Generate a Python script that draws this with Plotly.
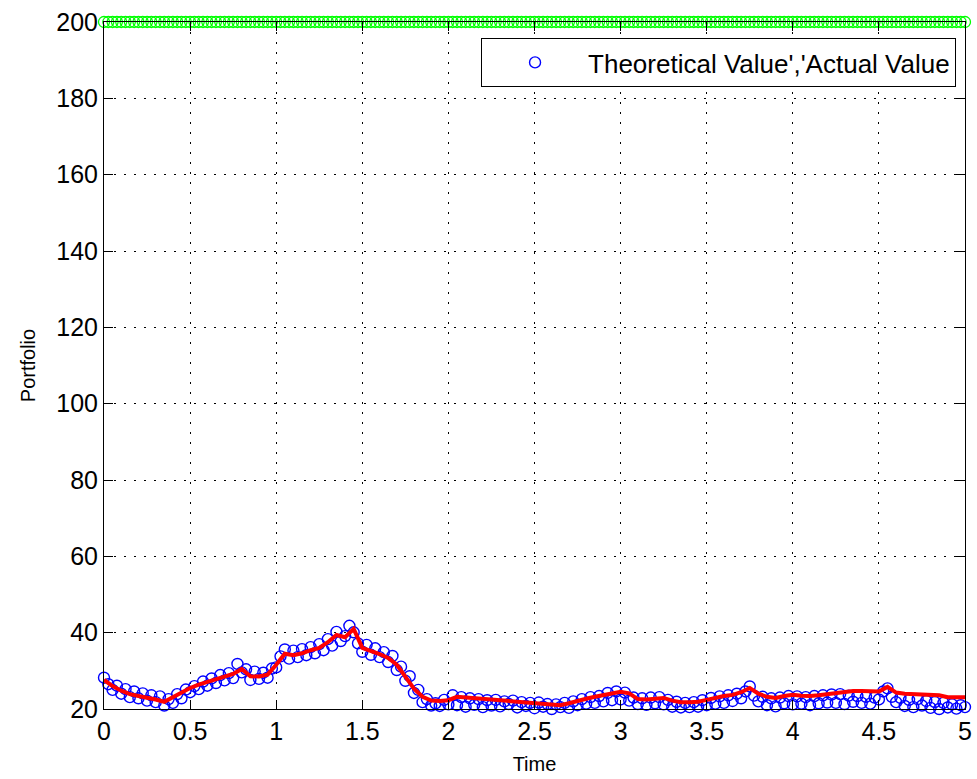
import numpy as np
import plotly.graph_objects as go

# Time grid for the sampled series
time_fine = np.linspace(0, 5, 201)     # theoretical values and the upper bound
time_coarse = np.linspace(0, 5, 101)   # actual value path

# Upper bound drawn as green circles along the top
upper_bound = [200.0] * len(time_fine)

# Theoretical portfolio value (blue circles)
theoretical = [
    28.2, 26.5, 25.0, 26.1, 24.0, 25.2, 23.1, 24.6,
    22.8, 24.1, 22.2, 23.6, 21.8, 23.3, 20.9, 22.6,
    21.6, 23.9, 22.8, 25.1, 24.4, 26.0, 25.2, 27.2,
    26.1, 28.0, 26.8, 28.9, 27.5, 29.4, 28.1, 31.8,
    29.6, 30.4, 27.6, 29.8, 27.9, 29.5, 28.2, 30.6,
    30.9, 33.8, 35.6, 33.2, 35.3, 33.6, 35.7, 34.1,
    36.2, 34.6, 37.0, 35.4, 38.3, 36.6, 40.2, 37.8,
    39.1, 41.8, 40.1, 37.2, 35.0, 36.8, 34.2, 35.9,
    33.6, 34.9, 32.3, 33.9, 30.2, 31.1, 27.4, 28.6,
    24.2, 25.0, 21.8, 22.6, 20.9, 21.5, 20.8, 22.4,
    21.2, 23.6, 21.0, 23.1, 20.6, 22.8, 21.1, 22.6,
    20.5, 22.3, 20.9, 22.4, 20.7, 22.0, 21.3, 22.2,
    20.4, 21.8, 20.8, 21.6, 20.2, 21.7, 20.6, 21.3,
    20.0, 21.2, 20.5, 21.6, 20.3, 22.0, 21.0, 22.6,
    21.4, 23.1, 21.6, 23.4, 22.0, 24.2, 22.3, 24.6,
    22.5, 24.3, 22.2, 23.0, 21.3, 22.8, 21.1, 23.0,
    21.5, 23.1, 21.2, 22.4, 20.6, 21.9, 20.4, 21.6,
    20.5, 21.8, 20.6, 22.3, 21.0, 22.9, 21.4, 23.3,
    21.6, 23.6, 22.1, 24.0, 22.8, 24.6, 25.9, 23.5,
    22.0, 23.2, 21.0, 22.8, 20.7, 23.0, 21.5, 23.4,
    21.2, 23.3, 21.4, 23.1, 21.0, 23.4, 21.5, 23.6,
    21.7, 23.8, 21.6, 23.9, 21.3, 23.5, 21.9, 23.4,
    21.6, 23.2, 21.4, 23.0, 22.5, 24.6, 25.4, 23.2,
    21.8, 22.9, 20.8, 22.4, 20.5, 22.6, 20.9, 22.1,
    20.3, 21.8, 20.0, 21.6, 20.4, 21.2, 20.1, 21.0,
    20.5,
]

# Actual portfolio value (red line)
actual = [
    27.6, 26.0, 24.8, 23.9, 23.4, 23.0, 22.5, 21.9, 23.2, 24.3,
    25.5, 26.4, 27.1, 27.6, 28.3, 29.2, 30.5, 28.6, 28.5, 29.0,
    31.6, 34.5, 34.1, 34.6, 35.4, 36.0, 37.5, 39.4, 38.8, 41.0,
    36.0, 35.3, 34.4, 33.4, 31.6, 28.5, 25.3, 23.2, 22.2, 22.1,
    22.3, 23.2, 23.0, 22.9, 22.6, 22.4, 22.4, 22.1, 21.9, 21.7,
    21.5, 21.3, 21.1, 21.0, 21.5, 22.2, 22.7, 23.2, 23.7, 24.0,
    24.5, 24.1, 22.6, 22.5, 22.8, 22.9, 22.2, 21.8, 21.8, 21.9,
    22.4, 23.0, 23.4, 23.7, 24.4, 25.5, 24.0, 23.2, 22.9, 23.4,
    23.7, 23.5, 23.4, 23.6, 23.9, 24.0, 24.4, 24.7, 24.7, 24.7,
    24.6, 25.8, 24.3, 24.0, 23.9, 23.9, 23.9, 23.6, 23.1, 23.1,
    23.1,
]

x_ticks = [0, 0.5, 1, 1.5, 2, 2.5, 3, 3.5, 4, 4.5, 5]
x_tick_labels = ["0", "0.5", "1", "1.5", "2", "2.5", "3", "3.5", "4", "4.5", "5"]
y_ticks = [20, 40, 60, 80, 100, 120, 140, 160, 180, 200]

FONT = "Liberation Sans, Arial, sans-serif"

fig = go.Figure()

fig.add_trace(go.Scatter(
    x=time_fine, y=upper_bound, mode="markers",
    marker=dict(symbol="circle-open", size=11, color="#00FF00", line=dict(width=1.3)),
    cliponaxis=False, showlegend=False, hoverinfo="skip",
))

fig.add_trace(go.Scatter(
    x=time_fine, y=theoretical, mode="markers",
    name="Theoretical Value','Actual Value",
    marker=dict(symbol="circle-open", size=11, color="#0000FF", line=dict(width=1.4)),
    cliponaxis=False,
))

fig.add_trace(go.Scatter(
    x=time_coarse, y=actual, mode="lines",
    line=dict(color="#FF0000", width=4),
    showlegend=False,
))

axis_common = dict(
    showline=True, linecolor="black", linewidth=1, mirror="allticks",
    ticks="inside", ticklen=9, tickcolor="black", tickwidth=1,
    showgrid=True, gridcolor="black", gridwidth=1, griddash="2px,8px",
    zeroline=False, ticklabeloverflow="allow",
    tickfont=dict(family=FONT, size=25, color="black"),
)

fig.update_xaxes(
    range=[0, 5], tickvals=x_ticks, ticktext=x_tick_labels,
    title=dict(text="Time", font=dict(family=FONT, size=20, color="black"), standoff=12),
    **axis_common,
)
fig.update_yaxes(
    range=[20, 200], tickvals=y_ticks,
    title=dict(text="Portfolio", font=dict(family=FONT, size=20, color="black"), standoff=15),
    **axis_common,
)

fig.update_layout(
    width=977, height=779,
    margin=dict(l=104, r=5, t=22, b=70),
    paper_bgcolor="white", plot_bgcolor="white",
    font=dict(family=FONT, color="black"),
    legend=dict(
        x=0.9896, y=0.9767, xanchor="right", yanchor="top",
        bgcolor="white", bordercolor="black", borderwidth=1,
        font=dict(family=FONT, size=26, color="black"),
        itemwidth=96,
    ),
)

fig.write_html("out.html")
